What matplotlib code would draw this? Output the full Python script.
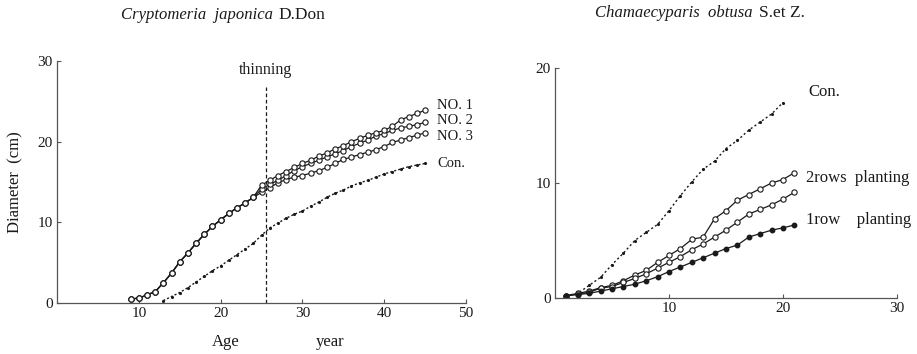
import matplotlib
matplotlib.use("Agg")
import matplotlib.pyplot as plt

plt.rcParams['font.family'] = ['Liberation Serif', 'DejaVu Serif']

# ---- Cryptomeria japonica (left) ----
ages_no = list(range(9, 46))
common = [0.5, 0.6, 1.0, 1.4, 2.5, 3.7, 5.1, 6.2, 7.4, 8.5, 9.5, 10.3, 11.1, 11.8, 12.4, 13.1]
no1 = common + [14.6, 15.2, 15.8, 16.3, 16.8, 17.3, 17.7, 18.2, 18.6, 19.1, 19.5, 20.0, 20.4,
                20.8, 21.1, 21.4, 21.9, 22.7, 23.1, 23.5, 23.9]
no2 = common + [14.1, 14.7, 15.2, 15.8, 16.4, 16.9, 17.3, 17.7, 18.1, 18.5, 18.9, 19.4, 19.8,
                20.2, 20.7, 21.0, 21.4, 21.7, 21.9, 22.1, 22.4]
no3 = common + [13.7, 14.3, 14.9, 15.3, 15.6, 15.8, 16.1, 16.4, 16.8, 17.3, 17.8, 18.1, 18.4,
                18.7, 19.0, 19.4, 19.9, 20.2, 20.5, 20.8, 21.1]
ages_con = list(range(13, 46))
con_cj = [0.3, 0.8, 1.3, 1.9, 2.6, 3.3, 4.0, 4.6, 5.3, 6.0, 6.7, 7.4, 8.4, 9.3, 9.9, 10.5, 11.0,
          11.4, 12.0, 12.5, 13.1, 13.6, 14.0, 14.5, 14.9, 15.2, 15.6, 16.0, 16.3, 16.6, 16.9,
          17.1, 17.3]
thinning_age = 25.5
left_xticks = [10, 20, 30, 40, 50]
left_yticks = [0, 10, 20, 30]

# ---- Chamaecyparis obtusa (right) ----
yrs = list(range(1, 22))
con_co = [0.2, 0.4, 1.1, 1.8, 2.9, 3.9, 5.0, 5.7, 6.4, 7.6, 8.9, 10.1, 11.2, 11.9, 13.0, 13.7,
          14.6, 15.3, 16.0, 17.0]
rows2 = [0.2, 0.4, 0.6, 0.9, 1.1, 1.5, 2.0, 2.4, 3.1, 3.7, 4.3, 5.1, 5.3, 6.9, 7.6, 8.5, 9.0,
         9.5, 10.0, 10.3, 10.9]
mid = [0.2, 0.35, 0.5, 0.85, 1.0, 1.35, 1.7, 2.1, 2.6, 3.1, 3.6, 4.2, 4.7, 5.3, 5.9, 6.6, 7.3,
       7.7, 8.1, 8.6, 9.2]
row1 = [0.2, 0.3, 0.4, 0.6, 0.8, 1.0, 1.2, 1.5, 1.85, 2.3, 2.7, 3.1, 3.5, 3.9, 4.3, 4.6, 5.3,
        5.6, 5.9, 6.1, 6.35]
right_xticks = [10, 20, 30]
right_yticks = [0, 10, 20]

ink = '#1a1a1a'
fig = plt.figure(figsize=(9.17, 3.54), dpi=100)

def style(ax):
    for s in ['top', 'right']:
        ax.spines[s].set_visible(False)
    for s in ['left', 'bottom']:
        ax.spines[s].set_color('#555555')
        ax.spines[s].set_linewidth(0.9)
    ax.tick_params(direction='in', length=3, width=0.8, color='#555555',
                   labelsize=11, labelcolor=ink, pad=3)

# Left axes
ax1 = fig.add_axes([57/917, 51/354, 409/917, 242/354])
style(ax1)
ax1.set_xlim(0, 50)
ax1.set_ylim(0, 30)
ax1.set_xticks(left_xticks)
ax1.set_yticks(left_yticks)
mk = dict(marker='o', markersize=3.8, markerfacecolor='white', markeredgewidth=0.8,
          color=ink, linewidth=0.9)
for ys in (no3, no2, no1):
    ax1.plot(ages_no, ys, **mk)
ax1.plot(ages_con, con_cj, linestyle=(0, (1.5, 1.5)), marker='.', markersize=2.5,
         color=ink, linewidth=1.0)
ax1.axvline(thinning_age, ymax=26.8/30, color=ink, linestyle=(0, (3, 2)), linewidth=0.9)
ax1.text(thinning_age, 28.9, 'thinning', ha='center', va='center', fontsize=11.5, color=ink)
for txt, y in [('NO. 1', 24.5), ('NO. 2', 22.6), ('NO. 3', 20.7), ('Con.', 17.3)]:
    ax1.text(46.5, y, txt, ha='left', va='center', fontsize=10.5, color=ink)
ax1.set_ylabel('Diameter  (cm)', fontsize=12, color=ink, labelpad=10)
fig.text(226/917, 1 - 342/354, 'Age', ha='center', va='center', fontsize=12, color=ink)
fig.text(330/917, 1 - 342/354, 'year', ha='center', va='center', fontsize=12, color=ink)
fig.text(273/917, 1 - 15/354, 'Cryptomeria  japonica', ha='right', va='center',
         fontsize=12, style='italic', color=ink)
fig.text(278/917, 1 - 15/354, 'D.Don', ha='left', va='center', fontsize=12.5, color=ink)

# Right axes
ax2 = fig.add_axes([555/917, 56/354, 342/917, 230/354])
style(ax2)
ax2.set_xlim(0, 30)
ax2.set_ylim(0, 20)
ax2.set_xticks(right_xticks)
ax2.set_yticks(right_yticks)
ax2.plot(yrs[:len(con_co)], con_co, linestyle=(0, (1.5, 1.8)), marker='.', markersize=2.5,
         color=ink, linewidth=1.0)
ax2.plot(yrs, rows2, **mk)
ax2.plot(yrs, mid, **mk)
ax2.plot(yrs, row1, marker='o', markersize=3.2, color=ink, linewidth=0.9)
ax2.text(22.2, 17.9, 'Con.', ha='left', va='center', fontsize=12, color=ink)
ax2.text(22.0, 10.4, '2rows  planting', ha='left', va='center', fontsize=12, color=ink)
ax2.text(22.0, 6.8, '1row    planting', ha='left', va='center', fontsize=12, color=ink)
fig.text(753/917, 1 - 13/354, 'Chamaecyparis  obtusa', ha='right', va='center',
         fontsize=12, style='italic', color=ink)
fig.text(759/917, 1 - 13/354, 'S.et Z.', ha='left', va='center', fontsize=12.5, color=ink)

fig.savefig('out.png', dpi=100)
